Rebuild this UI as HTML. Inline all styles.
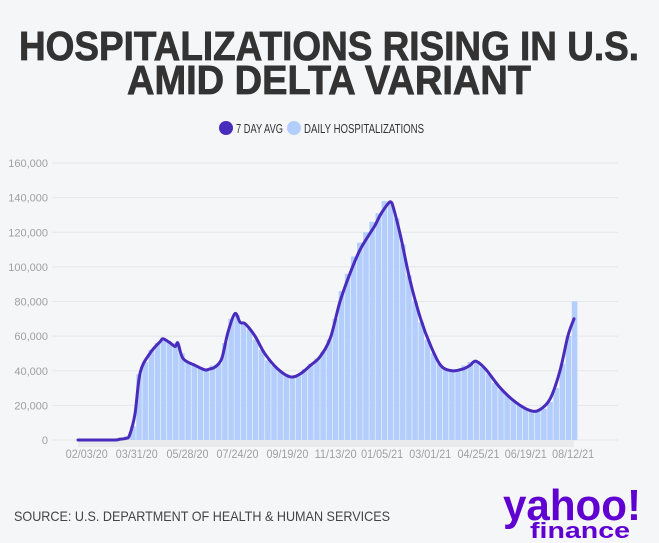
<!DOCTYPE html>
<html><head><meta charset="utf-8"><style>
html,body{margin:0;padding:0;background:#f5f6f8;}
svg{display:block;font-family:"Liberation Sans",sans-serif;}
</style></head><body>
<svg id="chart" width="659" height="543" viewBox="0 0 659 543">
<rect width="659" height="543" fill="#f5f6f8"/>
<text x="329" y="60" text-anchor="middle" font-size="41" font-weight="bold" fill="#333" stroke="#333" stroke-width="0.8" textLength="620" lengthAdjust="spacingAndGlyphs">HOSPITALIZATIONS RISING IN U.S.</text>
<text x="329" y="94" text-anchor="middle" font-size="41" font-weight="bold" fill="#333" stroke="#333" stroke-width="0.8" textLength="404" lengthAdjust="spacingAndGlyphs">AMID DELTA VARIANT</text>
<g>
<circle cx="226" cy="128" r="7" fill="#4a2cbd"/>
<text x="236" y="133" font-size="13" fill="#333" textLength="47" lengthAdjust="spacingAndGlyphs">7 DAY AVG</text>
<circle cx="294" cy="128" r="7" fill="#b3cdfc"/>
<text x="304" y="133" font-size="13" fill="#333" textLength="120" lengthAdjust="spacingAndGlyphs">DAILY HOSPITALIZATIONS</text>
</g>
<g id="grid"></g><g id="bars"></g><g id="line"></g><g id="axes"></g>
<text x="14" y="521" font-size="14" fill="#444" textLength="376" lengthAdjust="spacingAndGlyphs">SOURCE: U.S. DEPARTMENT OF HEALTH &amp; HUMAN SERVICES</text>
<g>
<text x="503" y="520" font-size="44" font-weight="bold" fill="#6001d2" textLength="138" lengthAdjust="spacingAndGlyphs">yahoo!</text>
<text x="530" y="538" font-size="22" font-weight="bold" fill="#6001d2" textLength="100" lengthAdjust="spacingAndGlyphs">finance</text>
</g>
</svg>
<script>
const yTicks=[0,20000,40000,60000,80000,100000,120000,140000,160000];
const xTickLabels=["02/03/20","03/31/20","05/28/20","07/24/20","09/19/20","11/13/20","01/05/21","03/01/21","04/25/21","06/19/21","08/12/21"];
const xTickDays=[10,67,125,182,239,294,347,402,457,511,565];
const dailyStartDay=0;
const dailyStep=7;
const dailyValues=[0,0,0,0,0,0,0.5,1,2,8,38,45,52,56,58,56,56,50,45,43,42,41,43,44,56,70,72,68,64,58,52,46,43,40,38,37,38,41,44,47,51,58,70,86,96,106,114,120,126,131,138,137,128,113,95,80,68,58,50,44,41,40,41,43,45,45,42,38,33,29,26,23,20,18,17,17,18,22,30,44,60,80];
const avgDays=[0,40,48,55,59,65,71,82,94,97,104,111,114,120,134,145,150,156,164,171,179,185,191,202,213,228,242,253,265,276,288,299,311,322,334,339,345,353,357,360,368,379,391,402,414,427,439,447,454,465,482,499,516,527,539,550,559,566];
const avgValues=[0,0,0.5,1,3,15,39,50,57,58.5,56.5,54,56,47,43,40.5,41,42,47,62,73,68,67,60,50,41,36.5,38,43,48,59,80,97,110,120,124,130,136,137.5,134,118,92,70,55,43,40,41,43,45.5,41,30,22,17,17.5,24,40,60,70];
const NS="http://www.w3.org/2000/svg";
const x=d=>78+d*(496/566);
const y=v=>440-v/160000*277;
const grid=document.getElementById('grid'),axes=document.getElementById('axes'),bars=document.getElementById('bars'),line=document.getElementById('line');
function mk(tag,attrs,parent){const e=document.createElementNS(NS,tag);for(const k in attrs)e.setAttribute(k,attrs[k]);parent.appendChild(e);return e;}
yTicks.forEach(v=>{
 const l=mk('line',{x1:52,x2:618,y1:y(v),y2:y(v),stroke:'#e6e7ea','stroke-width':1},grid);
 
 
 const t=mk('text',{x:48,y:y(v)+4,'text-anchor':'end','font-size':11,fill:'#a0a0a0'},axes);
 t.textContent=v.toLocaleString('en-US');
 
 
});
const strip=mk('rect',{x:78,y:440,width:496,height:7,fill:'#e9eaec'},grid);


dailyValues.forEach((v,i)=>{
 const d=dailyStartDay+i*dailyStep;
 const w=x(dailyStep)-x(0);
 const r=mk('rect',{x:x(d)-w/2,y:y(v*1000),width:w-0.6,height:440-y(v*1000),fill:'#b3cdfc'},bars);
 
 
});
const pts=avgDays.map((d,i)=>[x(d),y(avgValues[i]*1000)]);
let p='M'+pts[0][0]+','+pts[0][1];
for(let i=1;i<pts.length;i++){
 const p0=pts[Math.max(0,i-2)],a=pts[i-1],b=pts[i],p3=pts[Math.min(pts.length-1,i+1)];
 const c1=[a[0]+(b[0]-p0[0])/6,a[1]+(b[1]-p0[1])/6];
 const c2=[b[0]-(p3[0]-a[0])/6,b[1]-(p3[1]-a[1])/6];
 p+=' C'+c1[0]+','+c1[1]+' '+c2[0]+','+c2[1]+' '+b[0]+','+b[1];
}
const path=mk('path',{d:p,fill:'none',stroke:'#4a2cbd','stroke-width':3,'stroke-linejoin':'round','stroke-linecap':'round'},line);


xTickLabels.forEach((s,i)=>{
 const t=mk('text',{x:x(xTickDays[i]),y:458,'text-anchor':'middle','font-size':12,fill:'#a0a0a0',textLength:42,lengthAdjust:'spacingAndGlyphs'},axes);
 t.textContent=s;
 
 
});
</script>
</body></html>
